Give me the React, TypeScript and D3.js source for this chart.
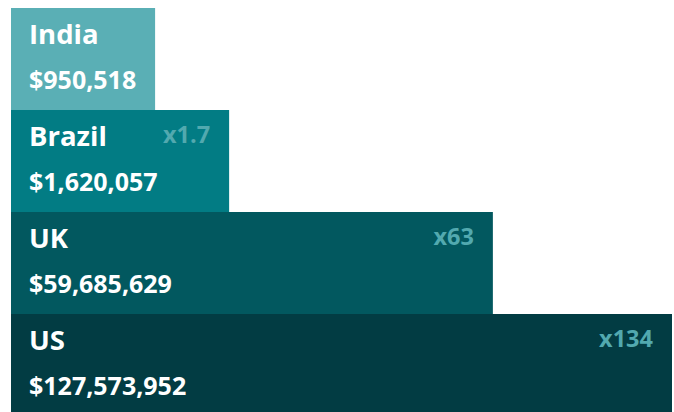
import React from "react";
import * as d3 from "d3";

const countries = ["India", "Brazil", "UK", "US"];
const values = [950518, 1620057, 59685629, 127573952];
const barColors = ["#5aafb5", "#027c84", "#02585f", "#023c43"];

const W = 674;
const H = 412;

export default function App() {
  const x0 = 11;
  const xMax = 672;
  const inner = xMax - x0;
  // hand-tuned visual scale (non-linear, piecewise across the data's values)
  const sorted = [...values].sort((a, b) => a - b);
  const widthScale = d3
    .scaleLinear()
    .domain(sorted)
    .range([0.218, 0.33, 0.729, 1].map((f) => f * inner));

  const y = d3.scaleBand().domain(countries).range([8, 416]).padding(0);
  const fmt = d3.format("$,");
  const base = values[0];
  const multFmt = (m: number) => (m < 10 ? "x" + d3.format(".1f")(m) : "x" + Math.round(m));
  const font = "'Open Sans', 'Noto Sans', sans-serif";

  return (
    <svg
      width={W}
      height={H}
      style={{ position: "absolute", left: 0, top: 0, display: "block" }}
    >
      {countries.map((c, i) => {
        const top = y(c)!;
        const w = widthScale(values[i]);
        const m = values[i] / base;
        return (
          <g key={c}>
            <rect x={x0} y={top} width={w} height={y.bandwidth()} fill={barColors[i]} />
            <text
              x={x0 + 18}
              y={top + 36}
              fill="#ffffff"
              fontFamily={font}
              fontWeight={700}
              fontSize={27.5}
            >
              {c}
            </text>
            <text
              x={x0 + 18}
              y={top + 81}
              fill="#ffffff"
              fontFamily={font}
              fontWeight={700}
              fontSize={25}
            >
              {fmt(values[i])}
            </text>
            {i > 0 && (
              <text
                x={x0 + w - 19}
                y={top + 33}
                textAnchor="end"
                fill="#52a9af"
                fontFamily={font}
                fontWeight={700}
                fontSize={23.5}
              >
                {multFmt(m)}
              </text>
            )}
          </g>
        );
      })}
    </svg>
  );
}
